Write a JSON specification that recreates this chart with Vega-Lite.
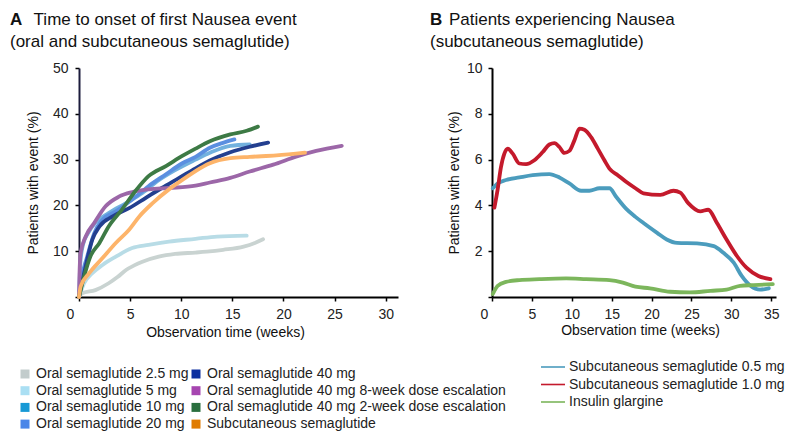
{
  "$schema": "https://vega.github.io/schema/vega-lite/v6.json",
  "background": "white",
  "padding": {"left": 10, "top": 11, "right": 5, "bottom": 5},
  "config": {
    "view": {"stroke": null},
    "font": "Liberation Sans",
    "axis": {"labelFont": "Liberation Sans", "labelFontSize": 14, "labelColor": "#222", "titleFont": "Liberation Sans", "titleFontSize": 14, "titleFontWeight": "normal", "titleColor": "#111", "domainColor": "#000", "domainWidth": 2, "tickColor": "#000", "tickWidth": 1.5, "tickSize": 4, "grid": false},
    "legend": {"labelFont": "Liberation Sans", "labelFontSize": 14, "labelColor": "#222", "labelLimit": 500, "padding": 0},
    "title": {"font": "Liberation Sans", "fontSize": 17, "fontWeight": "bold", "color": "#111", "subtitleFont": "Liberation Sans", "subtitleFontSize": 17, "subtitleColor": "#111", "subtitleLineHeight": 22, "anchor": "start", "frame": "group", "lineHeight": 17, "subtitlePadding": -17, "offset": 10}
  },
  "datasets": {
    "a": [
      {"s": "Oral semaglutide 2.5 mg", "w": 0, "v": 0},
      {"s": "Oral semaglutide 2.5 mg", "w": 0.3, "v": 0.8},
      {"s": "Oral semaglutide 2.5 mg", "w": 1.6, "v": 1.5},
      {"s": "Oral semaglutide 2.5 mg", "w": 2.9, "v": 3.0},
      {"s": "Oral semaglutide 2.5 mg", "w": 3.8, "v": 4.4},
      {"s": "Oral semaglutide 2.5 mg", "w": 4.6, "v": 5.9},
      {"s": "Oral semaglutide 2.5 mg", "w": 5.4, "v": 6.9},
      {"s": "Oral semaglutide 2.5 mg", "w": 6.2, "v": 7.7},
      {"s": "Oral semaglutide 2.5 mg", "w": 7.8, "v": 8.8},
      {"s": "Oral semaglutide 2.5 mg", "w": 9.4, "v": 9.4},
      {"s": "Oral semaglutide 2.5 mg", "w": 11.4, "v": 9.7},
      {"s": "Oral semaglutide 2.5 mg", "w": 12.5, "v": 9.9},
      {"s": "Oral semaglutide 2.5 mg", "w": 14.1, "v": 10.3},
      {"s": "Oral semaglutide 2.5 mg", "w": 16.1, "v": 11.0},
      {"s": "Oral semaglutide 2.5 mg", "w": 17.2, "v": 11.8},
      {"s": "Oral semaglutide 2.5 mg", "w": 18.0, "v": 12.6},
      {"s": "Oral semaglutide 5 mg", "w": 0, "v": 0},
      {"s": "Oral semaglutide 5 mg", "w": 0.5, "v": 3.0},
      {"s": "Oral semaglutide 5 mg", "w": 1.3, "v": 5.2},
      {"s": "Oral semaglutide 5 mg", "w": 2.3, "v": 7.0},
      {"s": "Oral semaglutide 5 mg", "w": 3.6, "v": 8.8},
      {"s": "Oral semaglutide 5 mg", "w": 5.2, "v": 10.7},
      {"s": "Oral semaglutide 5 mg", "w": 6.8, "v": 11.4},
      {"s": "Oral semaglutide 5 mg", "w": 8.8, "v": 12.1},
      {"s": "Oral semaglutide 5 mg", "w": 11.4, "v": 12.7},
      {"s": "Oral semaglutide 5 mg", "w": 13.5, "v": 13.2},
      {"s": "Oral semaglutide 5 mg", "w": 16.4, "v": 13.4},
      {"s": "Oral semaglutide 10 mg", "w": 0, "v": 0},
      {"s": "Oral semaglutide 10 mg", "w": 0.15, "v": 8.0},
      {"s": "Oral semaglutide 10 mg", "w": 0.4, "v": 11.5},
      {"s": "Oral semaglutide 10 mg", "w": 0.9, "v": 14.0},
      {"s": "Oral semaglutide 10 mg", "w": 1.6, "v": 16.2},
      {"s": "Oral semaglutide 10 mg", "w": 2.9, "v": 18.3},
      {"s": "Oral semaglutide 10 mg", "w": 4.6, "v": 20.5},
      {"s": "Oral semaglutide 10 mg", "w": 6.2, "v": 22.7},
      {"s": "Oral semaglutide 10 mg", "w": 7.8, "v": 25.5},
      {"s": "Oral semaglutide 10 mg", "w": 9.4, "v": 27.7},
      {"s": "Oral semaglutide 10 mg", "w": 11.4, "v": 30.0},
      {"s": "Oral semaglutide 10 mg", "w": 12.8, "v": 31.5},
      {"s": "Oral semaglutide 10 mg", "w": 14.8, "v": 33.0},
      {"s": "Oral semaglutide 10 mg", "w": 16.7, "v": 33.3},
      {"s": "Oral semaglutide 20 mg", "w": 0, "v": 0},
      {"s": "Oral semaglutide 20 mg", "w": 0.16, "v": 3.0},
      {"s": "Oral semaglutide 20 mg", "w": 0.8, "v": 8.8},
      {"s": "Oral semaglutide 20 mg", "w": 1.5, "v": 14.0},
      {"s": "Oral semaglutide 20 mg", "w": 2.3, "v": 16.9},
      {"s": "Oral semaglutide 20 mg", "w": 3.6, "v": 18.7},
      {"s": "Oral semaglutide 20 mg", "w": 5.2, "v": 21.3},
      {"s": "Oral semaglutide 20 mg", "w": 6.8, "v": 24.2},
      {"s": "Oral semaglutide 20 mg", "w": 8.5, "v": 26.8},
      {"s": "Oral semaglutide 20 mg", "w": 10.1, "v": 29.2},
      {"s": "Oral semaglutide 20 mg", "w": 11.4, "v": 30.6},
      {"s": "Oral semaglutide 20 mg", "w": 12.8, "v": 32.6},
      {"s": "Oral semaglutide 20 mg", "w": 14.0, "v": 33.6},
      {"s": "Oral semaglutide 20 mg", "w": 15.2, "v": 34.4},
      {"s": "Oral semaglutide 40 mg", "w": 0, "v": 0},
      {"s": "Oral semaglutide 40 mg", "w": 0.65, "v": 6.7},
      {"s": "Oral semaglutide 40 mg", "w": 1.3, "v": 12.5},
      {"s": "Oral semaglutide 40 mg", "w": 2.0, "v": 15.4},
      {"s": "Oral semaglutide 40 mg", "w": 3.3, "v": 17.6},
      {"s": "Oral semaglutide 40 mg", "w": 4.9, "v": 19.4},
      {"s": "Oral semaglutide 40 mg", "w": 6.5, "v": 21.6},
      {"s": "Oral semaglutide 40 mg", "w": 8.1, "v": 23.8},
      {"s": "Oral semaglutide 40 mg", "w": 9.8, "v": 26.0},
      {"s": "Oral semaglutide 40 mg", "w": 11.4, "v": 28.1},
      {"s": "Oral semaglutide 40 mg", "w": 12.8, "v": 29.8},
      {"s": "Oral semaglutide 40 mg", "w": 14.8, "v": 31.6},
      {"s": "Oral semaglutide 40 mg", "w": 16.7, "v": 32.8},
      {"s": "Oral semaglutide 40 mg", "w": 18.5, "v": 33.7},
      {"s": "Oral semaglutide 40 mg 8-week dose escalation", "w": 0, "v": 0},
      {"s": "Oral semaglutide 40 mg 8-week dose escalation", "w": 0.05, "v": 5.0},
      {"s": "Oral semaglutide 40 mg 8-week dose escalation", "w": 0.16, "v": 9.6},
      {"s": "Oral semaglutide 40 mg 8-week dose escalation", "w": 0.65, "v": 13.2},
      {"s": "Oral semaglutide 40 mg 8-week dose escalation", "w": 1.5, "v": 16.2},
      {"s": "Oral semaglutide 40 mg 8-week dose escalation", "w": 2.6, "v": 19.8},
      {"s": "Oral semaglutide 40 mg 8-week dose escalation", "w": 3.9, "v": 21.9},
      {"s": "Oral semaglutide 40 mg 8-week dose escalation", "w": 5.2, "v": 22.9},
      {"s": "Oral semaglutide 40 mg 8-week dose escalation", "w": 6.8, "v": 23.5},
      {"s": "Oral semaglutide 40 mg 8-week dose escalation", "w": 8.8, "v": 23.8},
      {"s": "Oral semaglutide 40 mg 8-week dose escalation", "w": 11.4, "v": 24.3},
      {"s": "Oral semaglutide 40 mg 8-week dose escalation", "w": 12.8, "v": 25.0},
      {"s": "Oral semaglutide 40 mg 8-week dose escalation", "w": 14.8, "v": 26.0},
      {"s": "Oral semaglutide 40 mg 8-week dose escalation", "w": 16.7, "v": 27.4},
      {"s": "Oral semaglutide 40 mg 8-week dose escalation", "w": 19.0, "v": 28.9},
      {"s": "Oral semaglutide 40 mg 8-week dose escalation", "w": 21.3, "v": 30.7},
      {"s": "Oral semaglutide 40 mg 8-week dose escalation", "w": 23.2, "v": 31.9},
      {"s": "Oral semaglutide 40 mg 8-week dose escalation", "w": 25.7, "v": 33.0},
      {"s": "Oral semaglutide 40 mg 2-week dose escalation", "w": 0, "v": 0},
      {"s": "Oral semaglutide 40 mg 2-week dose escalation", "w": 0.5, "v": 4.5},
      {"s": "Oral semaglutide 40 mg 2-week dose escalation", "w": 1.1, "v": 8.8},
      {"s": "Oral semaglutide 40 mg 2-week dose escalation", "w": 2.0, "v": 11.8},
      {"s": "Oral semaglutide 40 mg 2-week dose escalation", "w": 2.9, "v": 15.4},
      {"s": "Oral semaglutide 40 mg 2-week dose escalation", "w": 4.2, "v": 19.1},
      {"s": "Oral semaglutide 40 mg 2-week dose escalation", "w": 5.5, "v": 23.1},
      {"s": "Oral semaglutide 40 mg 2-week dose escalation", "w": 6.8, "v": 26.4},
      {"s": "Oral semaglutide 40 mg 2-week dose escalation", "w": 8.5, "v": 28.6},
      {"s": "Oral semaglutide 40 mg 2-week dose escalation", "w": 10.1, "v": 30.8},
      {"s": "Oral semaglutide 40 mg 2-week dose escalation", "w": 11.4, "v": 32.4},
      {"s": "Oral semaglutide 40 mg 2-week dose escalation", "w": 12.8, "v": 34.0},
      {"s": "Oral semaglutide 40 mg 2-week dose escalation", "w": 14.8, "v": 35.5},
      {"s": "Oral semaglutide 40 mg 2-week dose escalation", "w": 16.4, "v": 36.3},
      {"s": "Oral semaglutide 40 mg 2-week dose escalation", "w": 17.5, "v": 37.2},
      {"s": "Subcutaneous semaglutide", "w": 0, "v": 0},
      {"s": "Subcutaneous semaglutide", "w": 0.16, "v": 2.3},
      {"s": "Subcutaneous semaglutide", "w": 1.0, "v": 5.2},
      {"s": "Subcutaneous semaglutide", "w": 2.3, "v": 8.5},
      {"s": "Subcutaneous semaglutide", "w": 3.6, "v": 11.8},
      {"s": "Subcutaneous semaglutide", "w": 4.9, "v": 14.7},
      {"s": "Subcutaneous semaglutide", "w": 5.9, "v": 17.6},
      {"s": "Subcutaneous semaglutide", "w": 7.2, "v": 20.5},
      {"s": "Subcutaneous semaglutide", "w": 8.8, "v": 23.5},
      {"s": "Subcutaneous semaglutide", "w": 10.4, "v": 26.0},
      {"s": "Subcutaneous semaglutide", "w": 11.4, "v": 27.5},
      {"s": "Subcutaneous semaglutide", "w": 12.8, "v": 29.2},
      {"s": "Subcutaneous semaglutide", "w": 14.8, "v": 30.3},
      {"s": "Subcutaneous semaglutide", "w": 16.7, "v": 30.6},
      {"s": "Subcutaneous semaglutide", "w": 19.3, "v": 30.9},
      {"s": "Subcutaneous semaglutide", "w": 22.1, "v": 31.5}
    ],
    "b": [
      {"s": "Subcutaneous semaglutide 0.5 mg", "w": 0.1, "v": 4.75},
      {"s": "Subcutaneous semaglutide 0.5 mg", "w": 0.7, "v": 4.96},
      {"s": "Subcutaneous semaglutide 0.5 mg", "w": 1.76, "v": 5.11},
      {"s": "Subcutaneous semaglutide 0.5 mg", "w": 3.43, "v": 5.22},
      {"s": "Subcutaneous semaglutide 0.5 mg", "w": 5.1, "v": 5.32},
      {"s": "Subcutaneous semaglutide 0.5 mg", "w": 7.19, "v": 5.37},
      {"s": "Subcutaneous semaglutide 0.5 mg", "w": 8.45, "v": 5.22},
      {"s": "Subcutaneous semaglutide 0.5 mg", "w": 9.7, "v": 4.96},
      {"s": "Subcutaneous semaglutide 0.5 mg", "w": 11.17, "v": 4.64},
      {"s": "Subcutaneous semaglutide 0.5 mg", "w": 12.2, "v": 4.64},
      {"s": "Subcutaneous semaglutide 0.5 mg", "w": 13.47, "v": 4.75},
      {"s": "Subcutaneous semaglutide 0.5 mg", "w": 14.72, "v": 4.75},
      {"s": "Subcutaneous semaglutide 0.5 mg", "w": 15.56, "v": 4.38},
      {"s": "Subcutaneous semaglutide 0.5 mg", "w": 16.8, "v": 3.86},
      {"s": "Subcutaneous semaglutide 0.5 mg", "w": 17.98, "v": 3.5},
      {"s": "Subcutaneous semaglutide 0.5 mg", "w": 18.99, "v": 3.23},
      {"s": "Subcutaneous semaglutide 0.5 mg", "w": 20.7, "v": 2.8},
      {"s": "Subcutaneous semaglutide 0.5 mg", "w": 21.9, "v": 2.51},
      {"s": "Subcutaneous semaglutide 0.5 mg", "w": 23.2, "v": 2.36},
      {"s": "Subcutaneous semaglutide 0.5 mg", "w": 25.7, "v": 2.34},
      {"s": "Subcutaneous semaglutide 0.5 mg", "w": 27.8, "v": 2.22},
      {"s": "Subcutaneous semaglutide 0.5 mg", "w": 29.0, "v": 1.93},
      {"s": "Subcutaneous semaglutide 0.5 mg", "w": 30.3, "v": 1.5},
      {"s": "Subcutaneous semaglutide 0.5 mg", "w": 31.3, "v": 0.92},
      {"s": "Subcutaneous semaglutide 0.5 mg", "w": 32.4, "v": 0.49},
      {"s": "Subcutaneous semaglutide 0.5 mg", "w": 33.6, "v": 0.32},
      {"s": "Subcutaneous semaglutide 0.5 mg", "w": 34.7, "v": 0.38},
      {"s": "Subcutaneous semaglutide 1.0 mg", "w": 0.3, "v": 3.9},
      {"s": "Subcutaneous semaglutide 1.0 mg", "w": 0.71, "v": 4.7},
      {"s": "Subcutaneous semaglutide 1.0 mg", "w": 1.13, "v": 5.68},
      {"s": "Subcutaneous semaglutide 1.0 mg", "w": 1.55, "v": 6.26},
      {"s": "Subcutaneous semaglutide 1.0 mg", "w": 1.97, "v": 6.48},
      {"s": "Subcutaneous semaglutide 1.0 mg", "w": 2.6, "v": 6.26},
      {"s": "Subcutaneous semaglutide 1.0 mg", "w": 3.43, "v": 5.83},
      {"s": "Subcutaneous semaglutide 1.0 mg", "w": 4.27, "v": 5.8},
      {"s": "Subcutaneous semaglutide 1.0 mg", "w": 5.31, "v": 5.97},
      {"s": "Subcutaneous semaglutide 1.0 mg", "w": 6.36, "v": 6.33},
      {"s": "Subcutaneous semaglutide 1.0 mg", "w": 7.19, "v": 6.66},
      {"s": "Subcutaneous semaglutide 1.0 mg", "w": 7.82, "v": 6.72},
      {"s": "Subcutaneous semaglutide 1.0 mg", "w": 8.45, "v": 6.55},
      {"s": "Subcutaneous semaglutide 1.0 mg", "w": 9.07, "v": 6.29},
      {"s": "Subcutaneous semaglutide 1.0 mg", "w": 9.7, "v": 6.38},
      {"s": "Subcutaneous semaglutide 1.0 mg", "w": 10.33, "v": 6.84},
      {"s": "Subcutaneous semaglutide 1.0 mg", "w": 10.96, "v": 7.35},
      {"s": "Subcutaneous semaglutide 1.0 mg", "w": 11.58, "v": 7.3},
      {"s": "Subcutaneous semaglutide 1.0 mg", "w": 12.42, "v": 6.98},
      {"s": "Subcutaneous semaglutide 1.0 mg", "w": 13.26, "v": 6.48},
      {"s": "Subcutaneous semaglutide 1.0 mg", "w": 14.09, "v": 5.97},
      {"s": "Subcutaneous semaglutide 1.0 mg", "w": 14.72, "v": 5.61},
      {"s": "Subcutaneous semaglutide 1.0 mg", "w": 15.77, "v": 5.32},
      {"s": "Subcutaneous semaglutide 1.0 mg", "w": 16.81, "v": 5.03},
      {"s": "Subcutaneous semaglutide 1.0 mg", "w": 17.98, "v": 4.75},
      {"s": "Subcutaneous semaglutide 1.0 mg", "w": 18.99, "v": 4.53},
      {"s": "Subcutaneous semaglutide 1.0 mg", "w": 21.1, "v": 4.46},
      {"s": "Subcutaneous semaglutide 1.0 mg", "w": 22.75, "v": 4.64},
      {"s": "Subcutaneous semaglutide 1.0 mg", "w": 23.6, "v": 4.56},
      {"s": "Subcutaneous semaglutide 1.0 mg", "w": 24.6, "v": 4.1},
      {"s": "Subcutaneous semaglutide 1.0 mg", "w": 26.1, "v": 3.74},
      {"s": "Subcutaneous semaglutide 1.0 mg", "w": 27.1, "v": 3.81},
      {"s": "Subcutaneous semaglutide 1.0 mg", "w": 28.2, "v": 3.23},
      {"s": "Subcutaneous semaglutide 1.0 mg", "w": 29.4, "v": 2.51},
      {"s": "Subcutaneous semaglutide 1.0 mg", "w": 30.7, "v": 1.79},
      {"s": "Subcutaneous semaglutide 1.0 mg", "w": 31.9, "v": 1.28},
      {"s": "Subcutaneous semaglutide 1.0 mg", "w": 33.4, "v": 0.92},
      {"s": "Subcutaneous semaglutide 1.0 mg", "w": 34.9, "v": 0.78},
      {"s": "Insulin glargine", "w": 0.1, "v": 0.13},
      {"s": "Insulin glargine", "w": 0.71, "v": 0.49},
      {"s": "Insulin glargine", "w": 1.76, "v": 0.66},
      {"s": "Insulin glargine", "w": 3.43, "v": 0.74},
      {"s": "Insulin glargine", "w": 5.94, "v": 0.78},
      {"s": "Insulin glargine", "w": 9.28, "v": 0.81},
      {"s": "Insulin glargine", "w": 11.8, "v": 0.78},
      {"s": "Insulin glargine", "w": 14.72, "v": 0.74},
      {"s": "Insulin glargine", "w": 16.4, "v": 0.63},
      {"s": "Insulin glargine", "w": 17.98, "v": 0.45},
      {"s": "Insulin glargine", "w": 19.8, "v": 0.38},
      {"s": "Insulin glargine", "w": 22.3, "v": 0.23},
      {"s": "Insulin glargine", "w": 24.8, "v": 0.2},
      {"s": "Insulin glargine", "w": 27.4, "v": 0.27},
      {"s": "Insulin glargine", "w": 29.4, "v": 0.32},
      {"s": "Insulin glargine", "w": 31.1, "v": 0.49},
      {"s": "Insulin glargine", "w": 32.8, "v": 0.52},
      {"s": "Insulin glargine", "w": 35.2, "v": 0.56}
    ]
  },
  "spacing": 94,
  "bounds": "flush",
  "resolve": {"scale": {"color": "independent", "fill": "independent", "stroke": "independent"}, "legend": {"color": "independent", "fill": "independent", "stroke": "independent"}},
  "hconcat": [
    {
      "width": 319,
      "height": 229,
      "title": {"text": "A", "subtitle": ["\u200b\u00a0\u00a0\u00a0\u00a0\u00a0Time to onset of first Nausea event", "(oral and subcutaneous semaglutide)"], "dx": -69},
      "data": {"name": "a"},
      "encoding": {
        "x": {"field": "w", "type": "quantitative", "scale": {"domain": [0, 31.2], "nice": false, "zero": false},
          "axis": {"title": "Observation time (weeks)", "values": [0, 5, 10, 15, 20, 25, 30], "labelPadding": 6,
            "labelOffset": {"condition": {"test": "datum.value === 0", "value": -13}, "value": 0},
            "titleX": 146, "titleY": 35, "titleBaseline": "middle", "titleAlign": "center"}},
        "y": {"field": "v", "type": "quantitative", "scale": {"domain": [0, 50], "nice": false},
          "axis": {"title": "Patients with event (%)", "values": [0, 10, 20, 30, 40, 50], "labelExpr": "datum.value == 0 ? '' : datum.label", "labelPadding": 7, "domainColor": "#1c1c3c",
            "titleX": -46, "titleY": 114.5, "titleBaseline": "middle", "titleAlign": "center", "titleAngle": -90}}
      },
      "layer": [
        {
          "mark": {"type": "line", "strokeWidth": 3.8, "interpolate": "monotone", "strokeCap": "round", "strokeJoin": "round"},
          "encoding": {
            "stroke": {"field": "s", "type": "nominal", "legend": null,
              "scale": {"domain": ["Subcutaneous semaglutide", "Oral semaglutide 40 mg 2-week dose escalation", "Oral semaglutide 40 mg 8-week dose escalation", "Oral semaglutide 40 mg", "Oral semaglutide 20 mg", "Oral semaglutide 10 mg", "Oral semaglutide 5 mg", "Oral semaglutide 2.5 mg"],
                "range": ["#fdb46a", "#3d7a45", "#9c67a8", "#233f8f", "#5b8fe0", "#72b1de", "#b8dce6", "#c9d3d1"]}}
          }
        },
        {
          "mark": {"type": "point", "shape": "square", "filled": true, "opacity": 0},
          "encoding": {
            "fill": {"field": "s", "type": "nominal",
              "scale": {"domain": ["Oral semaglutide 2.5 mg", "Oral semaglutide 5 mg", "Oral semaglutide 10 mg", "Oral semaglutide 20 mg", "Oral semaglutide 40 mg", "Oral semaglutide 40 mg 8-week dose escalation", "Oral semaglutide 40 mg 2-week dose escalation", "Subcutaneous semaglutide"],
                "range": ["#c2cccc", "#aadff3", "#1799d5", "#4a86e8", "#0d2fa0", "#a646b0", "#2a6f3e", "#e07b00"]},
              "legend": {"title": null, "orient": "none", "legendX": -61, "legendY": 299, "columns": 2, "direction": "vertical", "symbolType": "square", "symbolSize": 81, "symbolOpacity": 1, "symbolStrokeWidth": 0, "rowPadding": 2.7, "columnPadding": -4, "labelOffset": 4}}
          }
        }
      ]
    },
    {
      "width": 284,
      "height": 229,
      "title": {"text": "B", "subtitle": ["\u200b\u00a0\u00a0\u00a0\u00a0Patients experiencing Nausea", "(subcutaneous semaglutide)"], "dx": -62},
      "data": {"name": "b"},
      "mark": {"type": "line", "strokeWidth": 3.8, "interpolate": "monotone", "strokeCap": "round", "strokeJoin": "round"},
      "encoding": {
        "x": {"field": "w", "type": "quantitative", "scale": {"domain": [0, 35.6], "nice": false, "zero": false},
          "axis": {"title": "Observation time (weeks)", "values": [0, 5, 10, 15, 20, 25, 30, 35], "labelPadding": 6,
            "labelOffset": {"condition": {"test": "datum.value === 0", "value": -12}, "value": 0},
            "titleX": 148, "titleY": 33, "titleBaseline": "middle", "titleAlign": "center"}},
        "y": {"field": "v", "type": "quantitative", "scale": {"domain": [0, 10], "nice": false},
          "axis": {"title": "Patients with event (%)", "values": [0, 2, 4, 6, 8, 10], "labelExpr": "datum.value == 0 ? '' : datum.label", "labelPadding": 6,
            "titleX": -38, "titleY": 114.5, "titleBaseline": "middle", "titleAlign": "center", "titleAngle": -90}},
        "color": {"field": "s", "type": "nominal",
          "scale": {"domain": ["Subcutaneous semaglutide 0.5 mg", "Subcutaneous semaglutide 1.0 mg", "Insulin glargine"], "range": ["#4b9cbd", "#c41a2c", "#7cb65c"]},
          "legend": {"title": null, "orient": "none", "legendX": 52, "legendY": 290, "symbolType": "M-1.5,0H1.5", "symbolSize": 256, "symbolStrokeWidth": 1.6, "rowPadding": 1.5, "labelOffset": 7}}
      }
    }
  ]
}
